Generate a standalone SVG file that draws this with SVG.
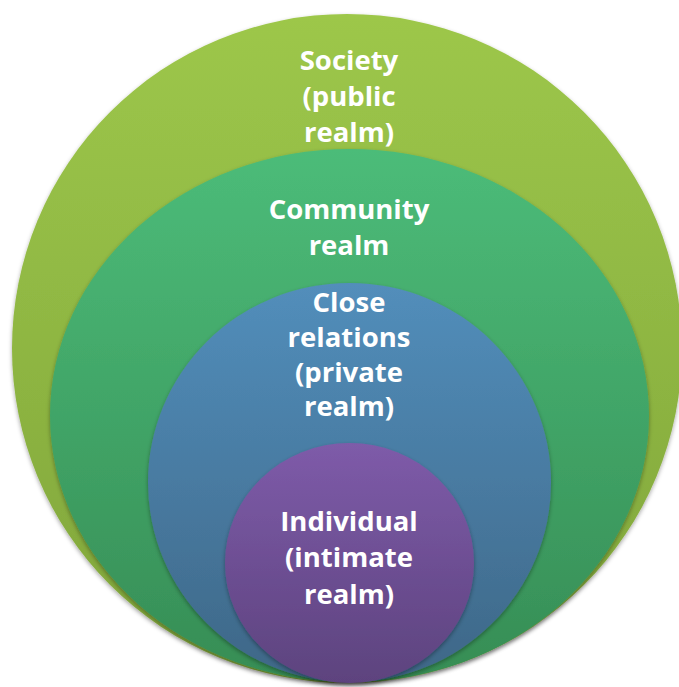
<svg xmlns="http://www.w3.org/2000/svg" width="679" height="687" viewBox="0 0 679 687">
<defs>
<linearGradient id="gOuter" x1="0" y1="0" x2="0" y2="1"><stop offset="0" stop-color="#9dc74a"/><stop offset="1" stop-color="#80a53b"/></linearGradient>
<linearGradient id="gComm" x1="0" y1="0" x2="0" y2="1"><stop offset="0" stop-color="#4cbc79"/><stop offset="1" stop-color="#368d55"/></linearGradient>
<linearGradient id="gClose" x1="0" y1="0" x2="0" y2="1"><stop offset="0" stop-color="#528ebb"/><stop offset="1" stop-color="#3e6787"/></linearGradient>
<linearGradient id="gInd" x1="0" y1="0" x2="0" y2="1"><stop offset="0" stop-color="#7e5ba9"/><stop offset="1" stop-color="#5d437e"/></linearGradient>
<filter id="sh" x="-10%" y="-10%" width="120%" height="120%"><feDropShadow dx="0" dy="2" stdDeviation="2" flood-color="#000" flood-opacity="0.35"/></filter>
</defs>
<style>
text{font-family:"Open Sans","Liberation Sans",sans-serif;font-weight:700;font-size:27.5px;fill:#fff;text-anchor:middle}
</style>
<rect width="679" height="687" fill="#fff"/>
<g id="society">
<ellipse cx="347" cy="348.5" rx="335" ry="334.5" fill="url(#gOuter)" filter="url(#sh)"/>
<text x="349" y="70">Society</text>
<text x="349" y="106">(public</text>
<text x="349" y="142">realm)</text>
</g>
<g id="community">
<ellipse cx="349.5" cy="415.5" rx="299.5" ry="266.5" fill="url(#gComm)" filter="url(#sh)"/>
<text x="349" y="219">Community</text>
<text x="349" y="255">realm</text>
</g>
<g id="close">
<ellipse cx="349.5" cy="482.5" rx="201.5" ry="199.5" fill="url(#gClose)" filter="url(#sh)"/>
<text x="349" y="312">Close</text>
<text x="349" y="347">relations</text>
<text x="349" y="382">(private</text>
<text x="349" y="416">realm)</text>
</g>
<g id="individual">
<ellipse cx="349.5" cy="563" rx="124.5" ry="120" fill="url(#gInd)" filter="url(#sh)"/>
<text x="349" y="531">Individual</text>
<text x="349" y="567">(intimate</text>
<text x="349" y="604">realm)</text>
</g>
<g id="connectors"/>
</svg>
